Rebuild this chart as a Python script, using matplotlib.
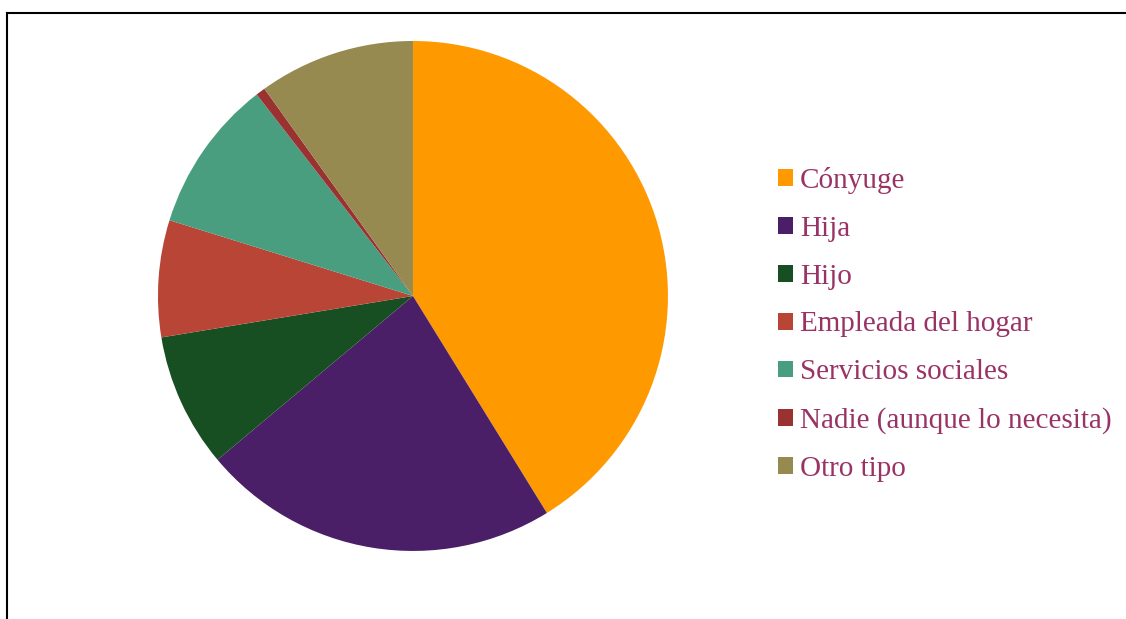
import matplotlib.pyplot as plt
from matplotlib.lines import Line2D
from matplotlib.patches import Patch

# who provides the care (percent of responses)
categories = ['Cónyuge', 'Hija', 'Hijo', 'Empleada del hogar',
              'Servicios sociales', 'Nadie (aunque lo necesita)', 'Otro tipo']
shares = [41.2, 22.7, 8.5, 7.4, 9.7, 0.6, 9.9]
colors = ['#FF9900', '#4A1F68', '#174F22', '#B94536', '#4A9E80', '#9A3232', '#968A50']

plt.rcParams['font.family'] = ['Liberation Serif', 'DejaVu Serif']

fig = plt.figure(figsize=(11.26, 6.19), dpi=100)
ax = fig.add_axes([0.1403, 0.1099, 0.4529, 0.8239])
ax.pie(shares, colors=colors, startangle=90, counterclock=False, radius=1.0,
       wedgeprops=dict(linewidth=0))
ax.set_xlim(-1, 1)
ax.set_ylim(-1, 1)
ax.set_aspect('equal')
ax.axis('off')

# legend on the right
handles = [Patch(facecolor=c, edgecolor='none') for c in colors]
leg = fig.legend(handles, categories, loc='upper left',
                 bbox_to_anchor=(0.691, 0.7305), frameon=False,
                 fontsize=21, handlelength=0.51, handleheight=0.51,
                 handletextpad=0.24, labelspacing=0.75, borderaxespad=0,
                 borderpad=0)
for t in leg.get_texts():
    t.set_color('#993366')

# frame lines along the top and left edge
fig.add_artist(Line2D([0.0062, 1.0], [0.979, 0.979], color='black', lw=1.5,
                      transform=fig.transFigure))
fig.add_artist(Line2D([0.0062, 0.0062], [0.0, 0.979], color='black', lw=1.5,
                      transform=fig.transFigure))

fig.savefig('out.png', dpi=100)
